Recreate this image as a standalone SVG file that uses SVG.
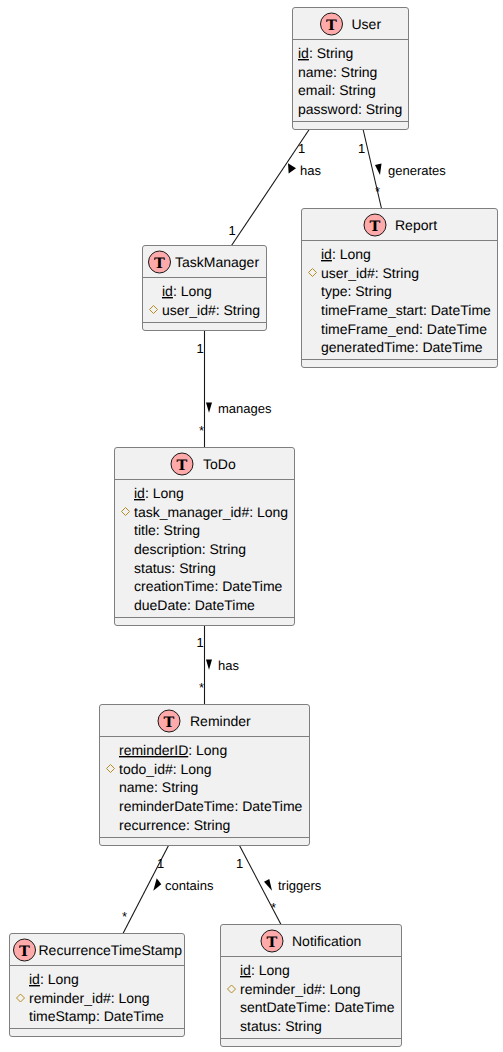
<svg xmlns="http://www.w3.org/2000/svg" width="503" height="1052" viewBox="0 0 503 1052">
<style>
text{font-family:"Liberation Sans",Arial,sans-serif;fill:#000;text-rendering:geometricPrecision;opacity:.999}
.box{fill:#F1F1F1;stroke:#7f7f7f;stroke-width:1}
.div{stroke:#7f7f7f;stroke-width:1;fill:none}
.ic{fill:#FFAAAA;stroke:#181818;stroke-width:1}
text.t{font-family:"DejaVu Serif",serif;font-weight:bold;font-size:14.5px;text-anchor:middle}
.n{font-size:14px}
.f{font-size:14px}
.l{font-size:13px}
.d{fill:none;stroke:#B38D22;stroke-width:1}
.c{stroke:#181818;stroke-width:1.1;fill:none}
.a{fill:#000;stroke:none}
</style>
<g id="connectors">
<path class="c" d="M309.5 129L231.5 245.5"/>
<path class="c" d="M363 129L381.5 208.5"/>
<path class="c" d="M204.5 330L204.5 447.5"/>
<path class="c" d="M204.5 625.5L204.5 704.5"/>
<path class="c" d="M168.5 845.5L123 933.5"/>
<path class="c" d="M239.5 845.5L281 924.5"/>
<path class="a" d="M288 163.3L296 168.3L288.7 173.5Z"/>
<path class="a" d="M375 165L381.5 163.5L380 175Z"/>
<path class="a" d="M206 402.5L212 402.5L209 412.8Z"/>
<path class="a" d="M206 659.5L212 659.5L209 669.8Z"/>
<path class="a" d="M156.7 878.3L161.3 884.3L153.3 890.7Z"/>
<path class="a" d="M264 881.7L269.3 879L272 890.7Z"/>
<text class="l" x="298" y="153">1</text>
<text class="l" x="228.5" y="235">1</text>
<text class="l" x="300" y="175">has</text>
<text class="l" x="358" y="153">1</text>
<text class="l" x="375" y="196">*</text>
<text class="l" x="388" y="175">generates</text>
<text class="l" x="196.5" y="353">1</text>
<text class="l" x="199" y="435">*</text>
<text class="l" x="218" y="413">manages</text>
<text class="l" x="196.5" y="647">1</text>
<text class="l" x="199" y="692">*</text>
<text class="l" x="218" y="670">has</text>
<text class="l" x="157" y="868">1</text>
<text class="l" x="122" y="921">*</text>
<text class="l" x="165" y="890">contains</text>
<text class="l" x="236" y="868">1</text>
<text class="l" x="271" y="912">*</text>
<text class="l" x="278" y="890">triggers</text>
</g>
<g id="User">
<rect class="box" x="292.5" y="7.5" width="116" height="122" rx="2.5"/>
<path class="div" d="M292.5 39.5H408.5M292.5 121.5H408.5"/>
<circle class="ic" cx="331.5" cy="24" r="11"/><text class="t" x="331.5" y="29.5">T</text>
<text class="n" x="351.5" y="29">User</text>
<text class="f" x="298" y="58"><tspan text-decoration="underline">id</tspan>: String</text>
<text class="f" x="298" y="77">name: String</text>
<text class="f" x="298" y="95">email: String</text>
<text class="f" x="298" y="114">password: String</text>
</g>
<g id="TaskManager">
<rect class="box" x="142.5" y="245.5" width="124" height="85" rx="2.5"/>
<path class="div" d="M142.5 277.5H266.5M142.5 322.5H266.5"/>
<circle class="ic" cx="159.5" cy="262" r="11"/><text class="t" x="159.5" y="267.5">T</text>
<text class="n" x="175" y="267">TaskManager</text>
<text class="f" x="162" y="296"><tspan text-decoration="underline">id</tspan>: Long</text>
<path class="d" d="M153.5 305.5L157.5 309.5L153.5 313.5L149.5 309.5Z"/>
<text class="f" x="162" y="315">user_id#: String</text>
</g>
<g id="Report">
<rect class="box" x="301.5" y="208.5" width="196" height="159" rx="2.5"/>
<path class="div" d="M301.5 240.5H497.5M301.5 359.5H497.5"/>
<circle class="ic" cx="375" cy="225" r="11"/><text class="t" x="375" y="230.5">T</text>
<text class="n" x="395" y="230">Report</text>
<text class="f" x="321" y="259"><tspan text-decoration="underline">id</tspan>: Long</text>
<path class="d" d="M312.5 268.5L316.5 272.5L312.5 276.5L308.5 272.5Z"/>
<text class="f" x="321" y="278">user_id#: String</text>
<text class="f" x="321" y="296">type: String</text>
<text class="f" x="321" y="315">timeFrame_start: DateTime</text>
<text class="f" x="321" y="334">timeFrame_end: DateTime</text>
<text class="f" x="321" y="352">generatedTime: DateTime</text>
</g>
<g id="ToDo">
<rect class="box" x="114.5" y="447.5" width="180" height="178" rx="2.5"/>
<path class="div" d="M114.5 479.5H294.5M114.5 617.5H294.5"/>
<circle class="ic" cx="182" cy="464" r="11"/><text class="t" x="182" y="469.5">T</text>
<text class="n" x="203" y="469">ToDo</text>
<text class="f" x="134" y="498"><tspan text-decoration="underline">id</tspan>: Long</text>
<path class="d" d="M125.5 507.5L129.5 511.5L125.5 515.5L121.5 511.5Z"/>
<text class="f" x="134" y="517">task_manager_id#: Long</text>
<text class="f" x="134" y="535">title: String</text>
<text class="f" x="134" y="554">description: String</text>
<text class="f" x="134" y="573">status: String</text>
<text class="f" x="134" y="591">creationTime: DateTime</text>
<text class="f" x="134" y="610">dueDate: DateTime</text>
</g>
<g id="Reminder">
<rect class="box" x="99.5" y="704.5" width="210" height="141" rx="2.5"/>
<path class="div" d="M99.5 736.5H309.5M99.5 837.5H309.5"/>
<circle class="ic" cx="169" cy="721" r="11"/><text class="t" x="169" y="726.5">T</text>
<text class="n" x="190" y="726">Reminder</text>
<text class="f" x="119" y="755"><tspan text-decoration="underline">reminderID</tspan>: Long</text>
<path class="d" d="M110.5 764.5L114.5 768.5L110.5 772.5L106.5 768.5Z"/>
<text class="f" x="119" y="774">todo_id#: Long</text>
<text class="f" x="119" y="792">name: String</text>
<text class="f" x="119" y="811">reminderDateTime: DateTime</text>
<text class="f" x="119" y="830">recurrence: String</text>
</g>
<g id="RecurrenceTimeStamp">
<rect class="box" x="9.5" y="933.5" width="175" height="103" rx="2.5"/>
<path class="div" d="M9.5 965.5H184.5M9.5 1028.5H184.5"/>
<circle class="ic" cx="24.5" cy="950" r="11"/><text class="t" x="24.5" y="955.5">T</text>
<text class="n" x="38.5" y="955">RecurrenceTimeStamp</text>
<text class="f" x="29" y="984"><tspan text-decoration="underline">id</tspan>: Long</text>
<path class="d" d="M20.5 994L24.5 998L20.5 1002L16.5 998Z"/>
<text class="f" x="29" y="1003">reminder_id#: Long</text>
<text class="f" x="29" y="1021">timeStamp: DateTime</text>
</g>
<g id="Notification">
<rect class="box" x="220.5" y="924.5" width="181" height="122" rx="2.5"/>
<path class="div" d="M220.5 956.5H401.5M220.5 1038.5H401.5"/>
<circle class="ic" cx="272" cy="941" r="11"/><text class="t" x="272" y="946.5">T</text>
<text class="n" x="292" y="946">Notification</text>
<text class="f" x="240" y="975"><tspan text-decoration="underline">id</tspan>: Long</text>
<path class="d" d="M231.5 985L235.5 989L231.5 993L227.5 989Z"/>
<text class="f" x="240" y="994">reminder_id#: Long</text>
<text class="f" x="240" y="1012">sentDateTime: DateTime</text>
<text class="f" x="240" y="1031">status: String</text>
</g>
</svg>
